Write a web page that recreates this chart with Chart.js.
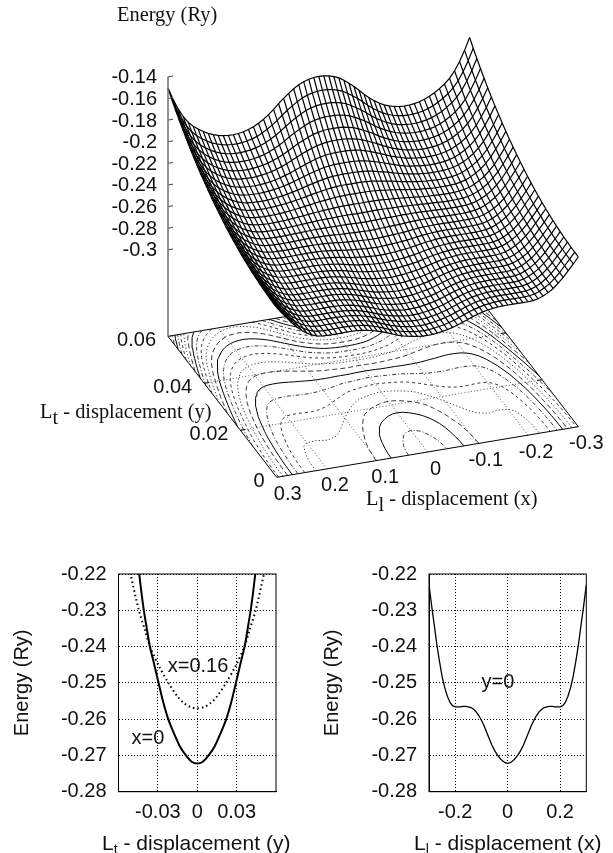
<!DOCTYPE html>
<html>
<head>
<meta charset="utf-8">
<script src="https://cdn.jsdelivr.net/npm/chart.js@4"></script>
<style>
  body { margin: 0; background: #fff; width: 613px; height: 853px; overflow: hidden; position: relative; }
  canvas { position: absolute; }
  .lab { position: absolute; white-space: nowrap; font-size: 20.4px; line-height: 22px; color: #111; }
  .serif { font-family: "Liberation Serif", serif; }
  .sans { font-family: "Liberation Sans", sans-serif; font-size: 21px; }
  .serif sub { font-size: 1em; line-height: 0; vertical-align: -0.28em; }
  .sans sub { font-size: 0.68em; line-height: 0; vertical-align: -0.3em; }
</style>
</head>
<body>
<canvas id="surface" width="613" height="530" style="left:0;top:0"></canvas>
<canvas id="cutY" width="300" height="303" style="left:0;top:550px"></canvas>
<canvas id="cutX" width="303" height="303" style="left:310px;top:550px"></canvas>
<div class="lab serif" style="left:117px;top:3px">Energy (Ry)</div>
<div class="lab serif" style="left:40px;top:400px">L<sub>t</sub> - displacement (y)</div>
<div class="lab serif" style="left:366px;top:487px">L<sub>l</sub> - displacement (x)</div>
<div class="lab sans" style="left:102px;top:832px">L<sub>t</sub> - displacement (y)</div>
<div class="lab sans" style="left:414px;top:832px">L<sub>l</sub> - displacement (x)</div>
<script>
// --- DATA ---
// surface columns, x >= 0 only (the picture is mirror symmetric in x)
const xHalf = [0,0.01,0.02,0.03,0.04,0.05,0.06,0.07,0.08,0.09,0.1,0.11,0.12,0.13,0.14,0.15,0.16,0.17,0.18,0.19,0.2,0.21,0.22,0.23,0.24,0.25,0.26,0.27,0.28,0.29,0.3];
const yRows = [0,0.002,0.004,0.006,0.008,0.01,0.012,0.014,0.016,0.018,0.02,0.022,0.024,0.026,0.028,0.03,0.032,0.034,0.036,0.038,0.04,0.042,0.044,0.046,0.048,0.05,0.052,0.054,0.056,0.058,0.06];
// energy in units of -0.0001 Ry, one line per entry of yRows, one value per entry of xHalf
const energyGrid = [
[2722,2720,2715,2707,2698,2686,2672,2654,2636,2618,2603,2590,2580,2573,2568,2566,2565,2565,2566,2566,2566,2563,2554,2537,2513,2482,2441,2395,2340,2287,2230],
[2721,2719,2714,2706,2697,2685,2671,2653,2635,2617,2602,2589,2579,2572,2567,2565,2564,2564,2565,2565,2565,2562,2553,2536,2512,2481,2440,2394,2339,2286,2229],
[2718,2716,2711,2703,2694,2682,2668,2650,2633,2615,2600,2587,2578,2571,2566,2564,2563,2563,2564,2564,2564,2561,2552,2535,2511,2480,2439,2393,2337,2284,2227],
[2712,2710,2705,2698,2689,2677,2664,2646,2629,2611,2597,2584,2575,2568,2563,2561,2560,2560,2561,2561,2561,2558,2549,2532,2508,2477,2436,2390,2334,2281,2223],
[2706,2704,2699,2691,2683,2671,2658,2641,2624,2607,2593,2580,2571,2564,2560,2558,2557,2557,2558,2558,2558,2555,2545,2528,2504,2473,2432,2386,2331,2277,2219],
[2696,2694,2690,2682,2674,2663,2650,2633,2617,2600,2587,2575,2566,2559,2555,2553,2552,2553,2554,2553,2553,2550,2541,2523,2499,2468,2427,2381,2325,2271,2213],
[2685,2683,2678,2671,2663,2653,2640,2624,2608,2592,2579,2568,2559,2553,2549,2548,2547,2547,2548,2548,2547,2544,2535,2517,2493,2462,2421,2374,2319,2264,2205],
[2672,2670,2666,2659,2651,2641,2629,2614,2598,2583,2571,2560,2552,2546,2542,2541,2541,2541,2542,2541,2541,2537,2528,2510,2486,2455,2414,2367,2311,2256,2197],
[2656,2655,2650,2644,2637,2627,2616,2601,2587,2573,2561,2551,2543,2538,2535,2534,2533,2533,2534,2534,2533,2530,2520,2502,2478,2447,2406,2359,2302,2247,2186],
[2639,2637,2633,2627,2620,2611,2601,2587,2574,2561,2550,2541,2534,2529,2526,2525,2525,2525,2526,2525,2525,2521,2511,2493,2469,2437,2396,2349,2292,2236,2175],
[2618,2616,2612,2607,2600,2592,2583,2570,2558,2546,2536,2528,2522,2518,2515,2514,2514,2515,2515,2515,2514,2510,2500,2482,2457,2426,2385,2337,2280,2223,2161],
[2595,2594,2590,2585,2579,2572,2564,2552,2541,2531,2522,2515,2509,2506,2504,2503,2503,2504,2504,2504,2503,2498,2488,2470,2445,2414,2372,2325,2267,2209,2146],
[2571,2570,2567,2562,2557,2551,2543,2533,2523,2514,2507,2500,2496,2493,2491,2491,2492,2492,2493,2492,2491,2486,2475,2457,2433,2401,2359,2312,2253,2194,2130],
[2544,2543,2540,2536,2531,2526,2520,2511,2503,2495,2489,2484,2481,2479,2477,2478,2478,2479,2479,2479,2477,2472,2461,2443,2418,2386,2345,2296,2237,2177,2112],
[2515,2513,2511,2507,2504,2500,2495,2488,2481,2475,2470,2466,2464,2463,2462,2463,2464,2465,2465,2464,2462,2457,2446,2427,2402,2370,2329,2280,2220,2159,2092],
[2482,2481,2478,2476,2473,2470,2467,2461,2456,2452,2449,2447,2446,2446,2446,2447,2448,2449,2449,2448,2446,2440,2429,2410,2385,2353,2311,2262,2201,2139,2070],
[2447,2446,2444,2442,2440,2439,2437,2433,2430,2428,2427,2426,2426,2427,2428,2430,2431,2432,2432,2431,2428,2422,2411,2392,2366,2334,2292,2243,2181,2118,2047],
[2410,2409,2408,2406,2405,2405,2405,2403,2403,2403,2403,2404,2406,2408,2409,2411,2413,2414,2414,2413,2410,2403,2391,2372,2346,2314,2272,2222,2160,2095,2022],
[2369,2369,2368,2367,2368,2369,2371,2371,2372,2375,2378,2380,2383,2386,2388,2391,2393,2394,2394,2393,2390,2383,2370,2351,2325,2292,2250,2200,2137,2070,1996],
[2327,2326,2326,2326,2328,2331,2335,2337,2341,2345,2350,2355,2359,2364,2367,2370,2372,2374,2374,2372,2368,2361,2348,2328,2302,2270,2227,2176,2112,2044,1967],
[2280,2279,2280,2281,2284,2289,2295,2299,2306,2313,2320,2327,2333,2339,2343,2347,2350,2351,2351,2349,2345,2337,2324,2303,2277,2244,2202,2150,2085,2015,1936],
[2232,2231,2232,2235,2239,2246,2254,2261,2270,2280,2290,2298,2306,2313,2318,2323,2326,2328,2328,2325,2321,2312,2299,2278,2251,2218,2176,2123,2057,1985,1904],
[2179,2179,2181,2184,2190,2198,2209,2219,2230,2244,2256,2267,2277,2286,2292,2297,2301,2303,2302,2300,2295,2286,2271,2250,2223,2190,2147,2094,2027,1953,1869],
[2124,2124,2126,2131,2137,2148,2161,2174,2189,2205,2220,2234,2246,2256,2263,2270,2273,2276,2275,2272,2267,2257,2242,2221,2194,2160,2117,2063,1995,1919,1832],
[2066,2066,2069,2075,2083,2096,2112,2128,2146,2165,2184,2199,2213,2226,2234,2241,2245,2248,2247,2244,2238,2228,2212,2190,2163,2129,2086,2031,1961,1883,1794],
[2001,2002,2005,2013,2023,2039,2057,2076,2097,2121,2142,2161,2177,2192,2201,2209,2214,2217,2216,2212,2206,2195,2178,2156,2128,2095,2051,1996,1924,1843,1751],
[1936,1937,1941,1950,1961,1980,2001,2023,2048,2076,2100,2122,2141,2157,2168,2176,2182,2185,2184,2180,2173,2161,2144,2122,2093,2059,2015,1959,1886,1803,1707],
[1866,1867,1872,1882,1896,1917,1941,1967,1996,2028,2056,2080,2102,2120,2132,2142,2148,2151,2150,2146,2138,2126,2108,2085,2056,2022,1978,1921,1846,1760,1661],
[1793,1794,1800,1812,1827,1851,1879,1909,1942,1977,2009,2037,2061,2081,2095,2106,2112,2116,2114,2110,2101,2088,2070,2046,2017,1982,1938,1880,1804,1715,1612],
[1714,1716,1723,1736,1754,1781,1812,1845,1883,1923,1959,1990,2017,2040,2055,2067,2074,2078,2076,2071,2062,2048,2029,2004,1975,1940,1896,1837,1759,1667,1560],
[1630,1632,1640,1655,1675,1705,1740,1778,1820,1865,1905,1940,1970,1995,2012,2025,2033,2037,2035,2030,2020,2005,1985,1960,1930,1895,1850,1790,1710,1615,1504]
];
const contourLevels = [-0.27,-0.265,-0.26,-0.255,-0.25,-0.245,-0.24,-0.235,-0.23,-0.225,-0.22,-0.215,-0.21,-0.205,-0.2,-0.195,-0.19,-0.185,-0.18,-0.175,-0.17,-0.165,-0.16,-0.155];
const zTicks = [-0.14,-0.16,-0.18,-0.2,-0.22,-0.24,-0.26,-0.28,-0.3];
const yTicks3d = [0,0.02,0.04,0.06];
const xTicks3d = [0.3,0.2,0.1,0,-0.1,-0.2,-0.3];

// lower left panel: E(y)
const cutY0 = [-0.046,-0.0442,-0.0425,-0.0407,-0.0385,-0.0361,-0.033,-0.0295,-0.026,-0.0221,-0.018,-0.013,-0.0086,-0.004,0,0.004,0.0086,0.013,0.018,0.0221,0.026,0.0295,0.033,0.0361,0.0385,0.0407,0.0425,0.0442,0.046];
const cutE0 = [-0.2146,-0.22,-0.2252,-0.23,-0.2349,-0.24,-0.2446,-0.25,-0.2552,-0.26,-0.2637,-0.2677,-0.27,-0.2718,-0.2722,-0.2718,-0.27,-0.2677,-0.2637,-0.26,-0.2552,-0.25,-0.2446,-0.24,-0.2349,-0.23,-0.2252,-0.22,-0.2146];
const cutY16 = [-0.053,-0.0508,-0.0445,-0.04,-0.036,-0.029,-0.022,-0.015,-0.01,-0.005,0,0.005,0.01,0.015,0.022,0.029,0.036,0.04,0.0445,0.0508,0.053];
const cutE16 = [-0.216,-0.22,-0.23,-0.2353,-0.24,-0.2455,-0.25,-0.2538,-0.2556,-0.2567,-0.257,-0.2567,-0.2556,-0.2538,-0.25,-0.2455,-0.24,-0.2353,-0.23,-0.22,-0.216];
const energyTicks = [-0.28,-0.27,-0.26,-0.25,-0.24,-0.23,-0.22];
const cutYTicks = [-0.03,0,0.03];
const cutXTicks = [-0.2,0,0.2];

// --- 3D VIEW ---
// fixed view of the box, same as the picture: x=0.3,y=0 is the front corner
function project(x, y, z) {
    const u = (0.3 - x) / 0.6, v = y / 0.06;
    return {
        x: 276.7 + 301.6 * u - 108.7 * v,
        y: 477.3 - 50.6 * u - 141 * v - (z + 0.38) * 1081
    };
}
const floorZ = -0.38;

// mirror the half columns out to the full x range, x running 0.3 -> -0.3
const xFull = [...xHalf.slice().reverse(), ...xHalf.slice(1).map(v => -v)];
const gridE = energyGrid.map(row => [...row.slice().reverse(), ...row.slice(1)].map(v => -v / 10000));

// walk the grid cells and chain up the level crossings into polylines
function contourLines(level) {
    const pts = {}, links = {};
    const link = (a, b) => { (links[a] = links[a] || []).push(b); (links[b] = links[b] || []).push(a); };
    const cross = (i0, j0, i1, j1) => {
        const e0 = gridE[j0][i0], e1 = gridE[j1][i1];
        if ((e0 < level) === (e1 < level)) return null;
        const key = i0 + '_' + j0 + '_' + i1 + '_' + j1;
        const t = (level - e0) / (e1 - e0);
        pts[key] = { x: xFull[i0] + t * (xFull[i1] - xFull[i0]), y: yRows[j0] + t * (yRows[j1] - yRows[j0]) };
        return key;
    };
    for (let j = 0; j < yRows.length - 1; j++) {
        for (let i = 0; i < xFull.length - 1; i++) {
            const c = [cross(i, j, i + 1, j), cross(i + 1, j, i + 1, j + 1), cross(i, j + 1, i + 1, j + 1), cross(i, j, i, j + 1)].filter(k => k);
            if (c.length >= 2) link(c[0], c[1]);
            if (c.length === 4) link(c[2], c[3]);
        }
    }
    const used = {}, lines = [];
    const walk = start => {
        const line = [];
        let cur = start;
        while (cur && !used[cur]) {
            used[cur] = true;
            line.push(pts[cur]);
            cur = links[cur].find(k => !used[k]);
        }
        if (line.length > 1) lines.push(line);
    };
    Object.keys(links).filter(k => links[k].length === 1).forEach(walk);
    Object.keys(links).forEach(walk);
    return lines;
}

function lineSet(points, opts) {
    return Object.assign({ data: points, pointRadius: 0, borderColor: '#000', borderWidth: 1, fill: false, tension: 0 }, opts);
}

const datasets = [];

// white strips under the mesh, they hide the floor behind the surface
yRows.forEach((y, j) => {
    const row = xFull.map((x, i) => project(x, y, gridE[j][i]));
    datasets.push(lineSet(row, { borderColor: 'transparent', backgroundColor: '#fff', fill: j < yRows.length - 1 ? '+1' : false, order: 2 }));
});
// mesh, heavier than the 1px original because this grid has fewer lines
yRows.forEach((y, j) => {
    datasets.push(lineSet(xFull.map((x, i) => project(x, y, gridE[j][i])), { borderWidth: 1.2, order: 1 }));
});
xFull.forEach((x, i) => {
    datasets.push(lineSet(yRows.map((y, j) => project(x, y, gridE[j][i])), { borderWidth: 1.2, order: 1 }));
});
// contours on the floor, line style cycles every five levels
const dashCycle = [[], [5, 3], [1.2, 2.2], [3, 3], [4, 2, 1, 2]];
contourLevels.forEach((lev, k) => {
    const dash = dashCycle[(k + 4) % 5];
    contourLines(lev).forEach(line => {
        datasets.push(lineSet(line.map(p => project(p.x, p.y, floorZ)), {
            borderWidth: dash.length ? 0.9 : 1, borderDash: dash, borderColor: dash.length ? '#222' : '#000', order: 3
        }));
    });
});
// floor grid, frame, ticks and the z axis
const floorSeg = (x0, y0, x1, y1, opts) => lineSet([project(x0, y0, floorZ), project(x1, y1, floorZ)], Object.assign({ order: 4 }, opts));
const gridStyle = { borderWidth: 1, borderDash: [1, 2.2], borderColor: '#555' };
[0.2, 0.1, 0, -0.1, -0.2].forEach(x => datasets.push(floorSeg(x, 0, x, 0.06, gridStyle)));
[0.02, 0.04].forEach(y => {
    datasets.push(floorSeg(0.3, y, -0.3, y, gridStyle));
    datasets.push(floorSeg(0.3, y, 0.29, y, { order: 3 }));
    datasets.push(floorSeg(-0.3, y, -0.29, y, { order: 3 }));
});
[[0.3, 0, -0.3, 0], [-0.3, 0, -0.3, 0.06], [-0.3, 0.06, 0.3, 0.06], [0.3, 0.06, 0.3, 0]].forEach(s => {
    datasets.push(floorSeg(s[0], s[1], s[2], s[3], { order: 3 }));
});
datasets.push(lineSet([project(0.3, 0.06, floorZ), project(0.3, 0.06, -0.14)], { borderColor: '#777', borderWidth: 1.6, order: 0 }));
zTicks.forEach(z => {
    datasets.push(lineSet([project(0.3, 0.06, z), project(0.29, 0.06, z)], { borderColor: '#444', order: 0 }));
});

const FONT = '20px "Liberation Sans", sans-serif';

const axisLabels3d = {
    id: 'axisLabels3d',
    afterDatasetsDraw(chart) {
        const { ctx, scales } = chart;
        const put = (text, p, dx, dy, align) => {
            ctx.textAlign = align;
            ctx.fillText(text, scales.x.getPixelForValue(p.x) + dx, scales.y.getPixelForValue(p.y) + dy);
        };
        ctx.save();
        ctx.font = FONT;
        ctx.fillStyle = '#111';
        ctx.textBaseline = 'middle';
        zTicks.forEach(z => put(String(z), project(0.3, 0.06, z), -11, 1, 'right'));
        yTicks3d.forEach(y => put(String(y), project(0.3, y, floorZ), -12, 4.5, 'right'));
        xTicks3d.forEach(x => put(String(x), project(x, 0, floorZ), x === 0.3 ? 11 : 8, 17, 'center'));
        ctx.restore();
    }
};

new Chart(document.getElementById('surface'), {
    type: 'line',
    data: { datasets: datasets },
    options: {
        responsive: false,
        animation: false,
        events: [],
        layout: { padding: 0 },
        plugins: { legend: { display: false }, tooltip: { enabled: false }, filler: { drawTime: 'beforeDatasetDraw' } },
        scales: {
            x: { type: 'linear', display: false, min: 0, max: 613 },
            y: { type: 'linear', display: false, min: 0, max: 530, reverse: true }
        }
    },
    plugins: [axisLabels3d]
});

// --- LOWER PANELS ---
const tickText = v => (v === 0 ? '0' : String(v));

function panel(id, opts) {
    new Chart(document.getElementById(id), {
        type: 'line',
        data: { datasets: opts.datasets },
        options: {
            responsive: false,
            animation: false,
            events: [],
            layout: { padding: { top: 24, right: opts.padRight, left: 0, bottom: 0 } },
            plugins: { legend: { display: false }, tooltip: { enabled: false } },
            scales: {
                x: {
                    type: 'linear', min: opts.xMin, max: opts.xMax,
                    afterBuildTicks: s => { s.ticks = opts.xTicks.map(v => ({ value: v })); },
                    afterFit: s => { s.height = 61.3; },
                    grid: { color: '#000', lineWidth: 1, drawTicks: false },
                    border: { dash: [1, 2], color: '#000' },
                    ticks: { color: '#111', font: { family: '"Liberation Sans"', size: 20 }, padding: 9, maxRotation: 0, autoSkip: false, callback: tickText }
                },
                y: {
                    type: 'linear', min: -0.28, max: -0.22,
                    afterBuildTicks: s => { s.ticks = energyTicks.map(v => ({ value: v })); },
                    afterFit: s => { s.width = opts.axisWidth; },
                    grid: { color: '#000', lineWidth: 1, drawTicks: false },
                    border: { dash: [1, 2], color: '#000' },
                    ticks: { color: '#111', font: { family: '"Liberation Sans"', size: 20 }, padding: 12, autoSkip: false, callback: tickText },
                    title: { display: true, text: 'Energy (Ry)', color: '#111', font: { family: '"Liberation Sans"', size: 20 }, padding: { top: 10, bottom: 0 } }
                }
            }
        },
        plugins: [{
            id: 'frameAndNotes',
            afterDatasetsDraw(chart) {
                const { ctx, chartArea: a, scales } = chart;
                ctx.save();
                ctx.strokeStyle = '#000';
                ctx.lineWidth = 1;
                ctx.strokeRect(a.left, a.top, a.right - a.left, a.bottom - a.top);
                ctx.font = FONT;
                ctx.fillStyle = '#111';
                ctx.textAlign = 'center';
                ctx.textBaseline = 'middle';
                opts.notes.forEach(n => ctx.fillText(n.text, scales.x.getPixelForValue(n.x), scales.y.getPixelForValue(n.e)));
                ctx.restore();
            }
        }]
    });
}

panel('cutY', {
    xMin: -0.06, xMax: 0.06, xTicks: cutYTicks, padRight: 24, axisWidth: 118.5,
    datasets: [
        lineSet(cutY0.map((y, i) => ({ x: y, y: cutE0[i] })), { borderWidth: 2, tension: 0.3 }),
        lineSet(cutY16.map((y, i) => ({ x: y, y: cutE16[i] })), { borderWidth: 2, borderDash: [1.5, 3], tension: 0.3 })
    ],
    notes: [{ text: 'x=0.16', x: 0.0006, e: -0.2454 }, { text: 'x=0', x: -0.0376, e: -0.2653 }]
});

panel('cutX', {
    xMin: -0.3, xMax: 0.3, xTicks: cutXTicks, padRight: 26.7, axisWidth: 119,
    datasets: [
        lineSet(xFull.map((x, i) => ({ x: x, y: gridE[0][i] })), { borderWidth: 1.3 })
    ],
    notes: [{ text: 'y=0', x: -0.037, e: -0.25 }]
});
</script>
</body>
</html>
